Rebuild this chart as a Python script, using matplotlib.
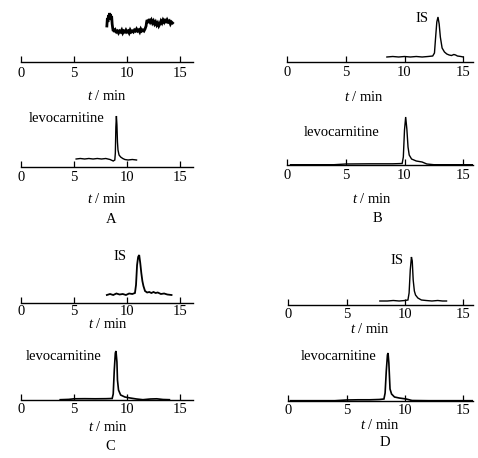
import matplotlib
matplotlib.use("Agg")
import matplotlib.pyplot as plt

plt.rcParams["font.family"] = ["Liberation Serif", "DejaVu Serif"]
plt.rcParams["mathtext.fontset"] = "custom"
plt.rcParams["mathtext.rm"] = "Liberation Serif"
plt.rcParams["mathtext.it"] = "Liberation Serif:italic"

W, H = 478, 458

# chromatogram traces, time in min, signal in arbitrary units
# A: blank serum
a_is_t = [8.10, 8.15, 8.20, 8.25, 8.30, 8.35, 8.40, 8.45, 8.50, 8.55, 8.60, 8.65, 8.70,
          8.75, 8.80, 8.90, 9.00, 9.10, 9.20, 9.30, 9.40, 9.50, 9.60, 9.70, 9.80, 9.90,
          10.0, 10.1, 10.2, 10.3, 10.4, 10.5, 10.6, 10.7, 10.8, 10.9, 11.0, 11.1, 11.2,
          11.3, 11.4, 11.5, 11.6, 11.7, 11.8, 11.85, 11.9, 12.0, 12.1, 12.2, 12.3, 12.4,
          12.5, 12.6, 12.7, 12.8, 12.9, 13.0, 13.1, 13.2, 13.3, 13.4, 13.5, 13.6, 13.7,
          13.8, 13.9, 14.0, 14.1, 14.2, 14.3]
a_is_y = [36, 44, 40, 47, 43, 49, 45, 48, 42, 46, 38, 34, 31, 33, 30, 32, 30, 31, 29,
          31, 30, 32, 29, 31, 30, 32, 30, 31, 29, 32, 30, 31, 30, 32, 31, 33, 31, 32, 30,
          33, 31, 32, 31, 33, 36, 40, 42, 39, 43, 40, 42, 39, 41, 38, 40, 37, 39, 36, 38,
          41, 39, 42, 40, 43, 39, 42, 40, 41, 38, 40, 39]
a_lc_t = [5.2, 5.6, 6.0, 6.4, 6.8, 7.2, 7.6, 8.0, 8.4, 8.7, 8.85, 8.9, 8.95, 9.0, 9.05,
          9.1, 9.15, 9.25, 9.4, 9.6, 9.8, 10.1, 10.5, 10.9]
a_lc_y = [8, 8.5, 8, 8.5, 8, 8.5, 8, 8.5, 7.5, 6, 7, 14, 40, 51, 42, 25, 17, 12, 10, 8.5,
          7.5, 7, 7.5, 7]

# B: blank serum spiked with levocarnitine and IS
b_is_t = [8.5, 9.0, 9.5, 10.0, 10.5, 11.0, 11.5, 12.0, 12.4, 12.55, 12.65, 12.75, 12.85,
          12.95, 13.05, 13.2, 13.4, 13.6, 13.8, 14.0, 14.2, 14.35, 14.5, 14.8, 15.0]
b_is_y = [5, 5.5, 5, 5.5, 5, 5.5, 5, 5.5, 6, 9, 25, 40, 45, 38, 25, 14, 10, 8, 7, 6.5,
          7.5, 7, 6, 5.5, 5]
b_lc_t = [0.3, 2.0, 4.0, 5.0, 7.0, 9.0, 9.8, 9.9, 10.0, 10.1, 10.2, 10.3, 10.4, 10.6,
          11.0, 11.5, 11.9, 12.5, 14.0, 15.8]
b_lc_y = [0.3, 0.3, 0.3, 1, 1.2, 1.2, 1.5, 8, 35, 48, 36, 18, 10, 6, 4, 3, 1, 0.3, 0.3, 0.3]

# C: serum sample after dosing
c_is_t = [8.1, 8.4, 8.7, 9.0, 9.3, 9.6, 9.9, 10.2, 10.5, 10.75, 10.85, 10.95, 11.05,
          11.15, 11.25, 11.35, 11.45, 11.55, 11.7, 11.9, 12.1, 12.3, 12.5, 12.7, 12.9,
          13.2, 13.5, 13.8, 14.2]
c_is_y = [8, 9, 8, 9.5, 8.5, 9, 8, 9.5, 9, 10, 18, 38, 46, 48, 40, 30, 22, 17, 12, 10.5,
          11, 10, 11, 10, 10.5, 9, 9.5, 8.5, 8]
c_lc_t = [3.7, 4.5, 5.0, 6.0, 7.0, 8.0, 8.6, 8.7, 8.8, 8.9, 8.96, 9.05, 9.1, 9.2, 9.4,
          9.8, 10.3, 10.9, 11.5, 12.2, 12.8, 13.4, 14.0]
c_lc_y = [0.3, 0.6, 1.2, 1.3, 1.2, 1.3, 1.5, 6, 30, 47, 49, 38, 20, 10, 5, 3, 2, 1,
          0.3, 1, 1.2, 0.5, 0.3]

# D: serum sample after dosing
d_is_t = [7.85, 8.5, 9.0, 9.5, 10.0, 10.25, 10.35, 10.45, 10.55, 10.62, 10.7, 10.8, 10.9,
          11.1, 11.4, 11.8, 12.3, 12.8, 13.2, 13.55]
d_is_y = [4, 4, 4.5, 4, 4.5, 5, 12, 35, 48, 44, 25, 14, 10, 7, 5, 4.5, 4, 4.5, 4, 4]
d_lc_t = [0.2, 2.0, 4.0, 5.0, 6.0, 7.0, 7.8, 8.2, 8.3, 8.4, 8.5, 8.55, 8.62, 8.72, 8.85,
          9.1, 9.5, 10.1, 10.6, 12.0, 14.0, 15.8]
d_lc_y = [0.3, 0.3, 0.3, 1, 1.2, 1.2, 1.5, 2, 8, 30, 46, 48, 38, 12, 7, 4, 3, 2, 0.5,
          0.3, 0.3, 0.3]

x_ticks = [0, 5, 10, 15]
panel_labels = ["A", "B", "C", "D"]

fig = plt.figure(figsize=(W / 100, H / 100), dpi=100)
FS = 10.5


def panel(left, axis_y, ppm, xmax, t, y, lw=1.0, pad=2.6):
    ax = fig.add_axes([left / W, (H - axis_y) / H, xmax * ppm / W, 55 / H])
    ax.plot(t, y, color="black", lw=lw, solid_joinstyle="miter")
    ax.set_xlim(0, xmax)
    ax.set_ylim(0, 55)
    for s in ["top", "left", "right"]:
        ax.spines[s].set_visible(False)
    ax.spines["bottom"].set_linewidth(1.0)
    ax.set_yticks([])
    ax.set_xticks(x_ticks)
    ax.tick_params(axis="x", direction="in", length=4, width=0.9, pad=pad, labelsize=FS)
    ax.patch.set_alpha(0)
    return ax


def ftext(x, y, s, **kw):
    fig.text(x / W, 1 - y / H, s, ha="center", va="center", fontsize=FS, **kw)


xl = r"$\mathit{t}$ / min"

# A
panel(21, 62, 10.6, 16.2, a_is_t, a_is_y, lw=2.0, pad=3.3)
ftext(107, 96, xl)
panel(21, 167, 10.6, 16.2, a_lc_t, a_lc_y)
ftext(67, 118, "levocarnitine")
ftext(107, 199, xl)
ftext(111, 219, panel_labels[0])

# B
panel(287, 62, 11.75, 15.8, b_is_t, b_is_y, pad=3.0)
ftext(422, 18, "IS")
ftext(364, 97, xl)
panel(287, 165, 11.75, 15.8, b_lc_t, b_lc_y)
ftext(342, 132, "levocarnitine")
ftext(372, 199, xl)
ftext(377, 218, panel_labels[1])

# C
panel(21, 303, 10.6, 16.2, c_is_t, c_is_y, lw=1.3, pad=1.2)
ftext(120, 256, "IS")
ftext(108, 324, xl)
panel(21, 400, 10.6, 16.2, c_lc_t, c_lc_y, lw=1.2, pad=2.3)
ftext(64, 356, "levocarnitine")
ftext(108, 427, xl)
ftext(110, 446, panel_labels[2])

# D
panel(288, 305, 11.7, 15.8, d_is_t, d_is_y, pad=1.8)
ftext(397, 261, "IS")
ftext(370, 329, xl)
panel(288, 401, 11.7, 15.8, d_lc_t, d_lc_y, lw=1.2, pad=2.4)
ftext(339, 357, "levocarnitine")
ftext(380, 425, xl)
ftext(385, 443, panel_labels[3])

fig.savefig("out.png", dpi=100)
